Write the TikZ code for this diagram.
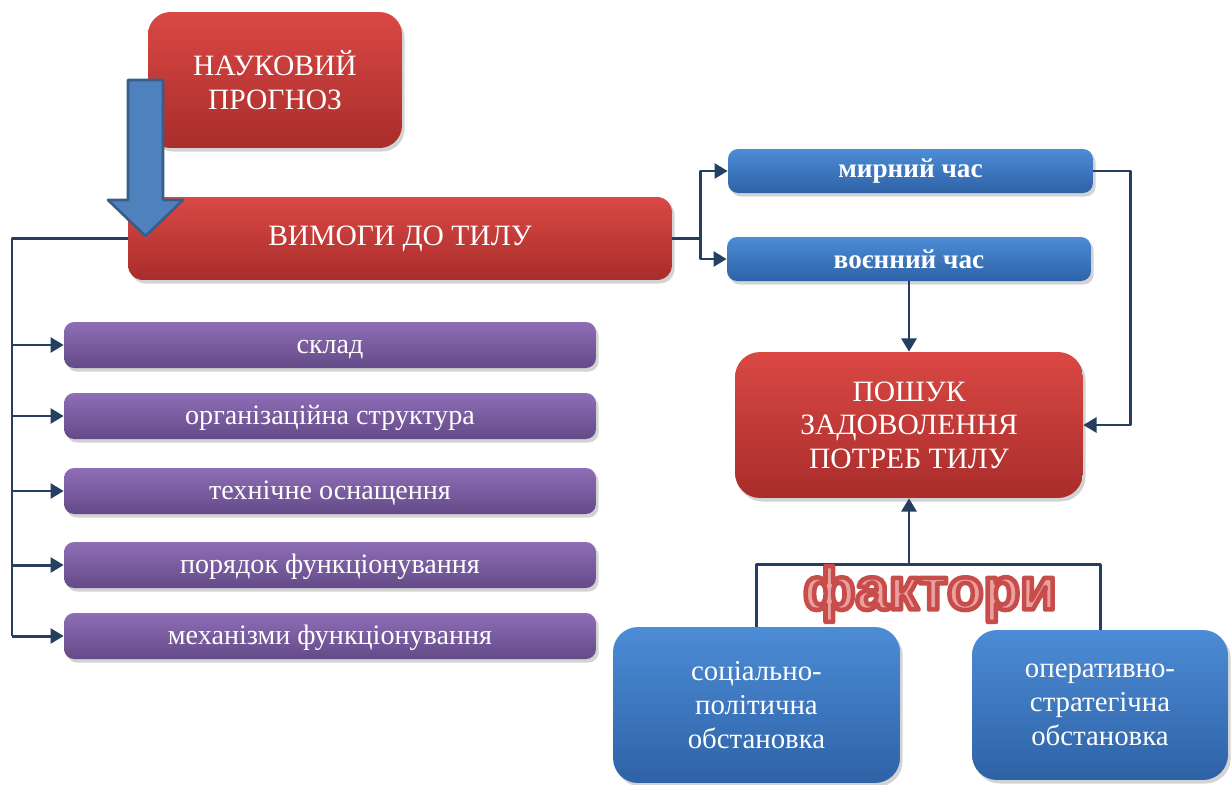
\documentclass[tikz,border=0pt]{standalone}
\usepackage{fontspec}
\setmainfont{Liberation Serif}
\newfontfamily\factorfont{Liberation Sans}
\usetikzlibrary{shadows,arrows.meta}
\definecolor{redtop}{RGB}{218,72,68}
\definecolor{redbot}{RGB}{168,45,43}
\definecolor{bluetop}{RGB}{76,140,214}
\definecolor{bluebot}{RGB}{46,98,166}
\definecolor{violettop}{RGB}{142,110,182}
\definecolor{violetbot}{RGB}{100,74,136}
\definecolor{linecol}{RGB}{36,63,96}
\definecolor{arrowfill}{RGB}{79,129,189}
\definecolor{arrowline}{RGB}{56,93,138}
\definecolor{factpink}{RGB}{234,160,158}
\newcommand\outlined[1]{{\color{factpink}\special{pdf:literal direct 2 Tr 2.6 w 0.78 0.30 0.29 RG}#1\special{pdf:literal direct 0 Tr}}}
\begin{document}
\begin{tikzpicture}[x=0.02cm, y=-0.02cm, line join=round, >={Triangle[length=7.5pt,width=8.5pt]},
	box/.style={inner sep=0pt, align=center, text=white, drop shadow={opacity=0.35,shadow xshift=1.5pt,shadow yshift=-2pt}},
	redbox/.style={box, top color=redtop, bottom color=redbot, font=\fontsize{16.8}{19}\selectfont},
	bluebar/.style={box, top color=bluetop, bottom color=bluebot, rounded corners=0.2cm, minimum height=0.88cm, font=\bfseries\fontsize{15.5}{18}\selectfont},
	bluebox/.style={box, top color=bluetop, bottom color=bluebot, rounded corners=0.5cm, font=\fontsize{16.4}{19.5}\selectfont},
	violetbox/.style={box, top color=violettop, bottom color=violetbot, rounded corners=0.2cm, minimum width=10.64cm, minimum height=0.92cm, text height=11pt, text depth=1pt, font=\fontsize{16}{18}\selectfont},
	conn/.style={draw=linecol, line width=1.7pt},
	bigarrow/.style={fill=arrowfill, draw=arrowline, line width=1.5pt}]
	\useasboundingbox (0,0) rectangle (1232,785);
	\node[redbox, minimum width=5.08cm, minimum height=2.72cm, rounded corners=0.45cm] (prog) at (275,80) {НАУКОВИЙ\\ПРОГНОЗ};
	\node[redbox, minimum width=10.88cm, minimum height=1.66cm, rounded corners=0.3cm] (req) at (400,238.5) {ВИМОГИ ДО ТИЛУ};
	\foreach \n/\y/\t in {skl/345/склад, org/416/організаційна структура, tech/491/технічне оснащення, ord/565/порядок функціонування, mech/636/механізми функціонування}
		\node[violetbox] (\n) at (330,\y) {\t};
	\node[bluebar, minimum width=7.3cm] (peace) at (910.5,171) {мирний час};
	\node[bluebar, minimum width=7.28cm] (war) at (909,259) {воєнний час};
	\node[redbox, minimum width=6.96cm, minimum height=2.92cm, rounded corners=0.5cm] (search) at (909,425) {ПОШУК\\ЗАДОВОЛЕННЯ\\ПОТРЕБ ТИЛУ};
	\node[bluebox, minimum width=5.74cm, minimum height=3.12cm] (soc) at (756.5,705) {соціально-\\політична\\обстановка};
	\node[bluebox, minimum width=5.12cm, minimum height=3cm] (oper) at (1100,705) {оперативно-\\стратегічна\\обстановка};
	\draw[bigarrow] (128,80) -- (163,80) -- (163,200) -- (183,200) -- (145.5,236) -- (108,200) -- (128,200) -- cycle;
	\coordinate (bus) at (12,238.5);
	\draw[conn] (req.west) -- (bus) -- (bus |- mech.west);
	\foreach \n in {skl,org,tech,ord,mech}
		\draw[conn,->] (bus |- \n.west) -- (\n.west);
	\draw[conn,->] (req.east) -- ++(28,0) |- (peace.west);
	\draw[conn,->] (req.east) -- ++(28,0) |- (war.west);
	\draw[conn,->] (peace.east) -- ++(37,0) |- (search.east);
	\draw[conn,->] (war.south) -- (search.north);
	\path (soc.north) ++(0,-62) coordinate (fork);
	\draw[conn] (soc.north) -- (fork) -| (oper.north);
	\draw[conn,->] (fork -| search.south) -- (search.south);
	\node[font=\factorfont\bfseries\fontsize{34}{34}\selectfont] (factors) at (930,594) {\outlined{фактори}};
\end{tikzpicture}
\end{document}
